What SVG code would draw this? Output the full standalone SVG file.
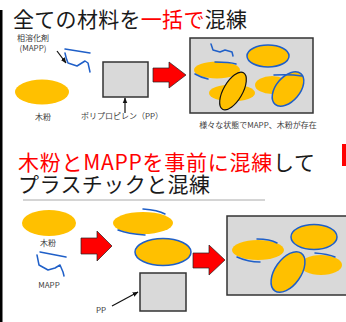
<svg xmlns="http://www.w3.org/2000/svg" width="346" height="322" viewBox="0 0 346 322">
<defs>
<style>
.t{font-family:"Noto Sans CJK JP","Noto Sans",sans-serif;font-size:21px;fill:#1a1a1a}
.r{fill:#ff0000}
.s{font-family:"Noto Sans CJK JP","Noto Sans",sans-serif;font-size:8px;fill:#404040}
.wood{fill:#ffc000}
.wb{fill:#ffc000;stroke:#1f5fc8;stroke-width:1.5}
.wk{fill:#ffc000;stroke:#111;stroke-width:1.2}
.mapp{fill:none;stroke:#1f5fc8;stroke-width:1.5;stroke-linecap:round;stroke-linejoin:round}
.box{fill:#d9d9d9;stroke:#333;stroke-width:1.5}
.ra{fill:#ff0000;stroke:#222;stroke-width:0.7}
.ln{stroke:#111;stroke-width:1.2;fill:none}
</style>
<marker id="ah" viewBox="0 0 10 10" refX="9" refY="5" markerWidth="5" markerHeight="5" orient="auto"><path d="M0,1 L10,5 L0,9 z" fill="#111"/></marker>
</defs>
<rect width="346" height="322" fill="#fff"/>
<rect x="0" y="10" width="2.5" height="312" fill="#000"/>
<rect x="342" y="144" width="4" height="22" fill="#ff0000"/>

<g id="title1"><text class="t" x="13" y="27" textLength="234">全ての材料を<tspan class="r">一括で</tspan>混練</text></g>

<g id="mapp1">
<text class="s" x="33" y="41" text-anchor="middle">相溶化剤</text>
<text class="s" x="33" y="51" text-anchor="middle">(MAPP)</text>
<path class="mapp" d="M65,49 L90,53 M65,53 C66,58 67,61 68,63 L77,66 L85,61 L88,63 L90,72"/>
</g>
<g id="wood1"><ellipse class="wood" cx="42" cy="92" rx="27" ry="12.5"/><text class="s" x="43" y="120" text-anchor="middle">木粉</text></g>
<g id="pp1"><rect class="box" x="103" y="62" width="45" height="35"/><text class="s" x="122" y="119" text-anchor="middle">ポリプロピレン（PP）</text></g>

<g id="mix1">
<rect class="box" x="190" y="38" width="123" height="75"/>
<path class="mapp" d="M211,44 L213,50 L220,52 L225,50 L232,52 L233,56"/>
<ellipse class="wb" cx="268" cy="56" rx="21" ry="11"/>
<ellipse class="wood" cx="217" cy="70" rx="23" ry="8.5"/>
<path class="mapp" d="M215,62 Q230,62 236,64 M195,74 Q200,77 208,79"/>
<ellipse class="wood" cx="232" cy="93" rx="23" ry="8.5"/>
<ellipse class="wk" cx="233" cy="91" rx="21" ry="9.5" transform="rotate(-60 233 91)"/>
<ellipse class="wood" cx="272" cy="85" rx="17" ry="9"/>
<ellipse class="wb" cx="288" cy="89" rx="20" ry="12" transform="rotate(-50 288 89)"/>
<path class="mapp" d="M274,75 Q290,74 302,76"/>
<text class="s" x="258" y="128" text-anchor="middle">様々な状態でMAPP、木粉が存在</text>
</g>

<g id="title2">
<text class="t" x="18" y="170" textLength="297"><tspan class="r">木粉とMAPPを事前に混練</tspan>して</text>
<text class="t" x="18" y="192" textLength="192">プラスチックと混練</text>
<line x1="23" y1="200" x2="265" y2="200" stroke="#aaa" stroke-width="1"/>
</g>

<g id="wood2"><ellipse class="wood" cx="49" cy="223" rx="27" ry="13"/><text class="s" x="48" y="246" text-anchor="middle">木粉</text></g>
<g id="mapp2">
<path class="mapp" d="M40,252 L66,257 M37,255 L39,265 L48,270 L55,268 L60,265 L63,272 L64,276"/>
<text class="s" x="49" y="288" text-anchor="middle">MAPP</text>
</g>
<g id="premix">
<ellipse class="wood" cx="143" cy="223" rx="30" ry="11"/>
<path class="mapp" d="M143,209 Q158,210 165,214 M118,230 Q128,234 145,235"/>
<ellipse class="wb" cx="163" cy="252" rx="28" ry="13.5"/>
</g>
<g id="pp2"><rect class="box" x="140" y="273" width="46" height="38"/><text class="s" x="101" y="313" text-anchor="middle">PP</text></g>

<g id="mix2">
<rect class="box" x="227" y="216" width="120" height="79"/>
<ellipse class="wood" cx="258" cy="250" rx="26" ry="10"/>
<path class="mapp" d="M257,239 Q270,239 277,243 M237,257 Q248,262 260,262"/>
<ellipse class="wb" cx="314" cy="237" rx="23" ry="12.5"/>
<ellipse class="wood" cx="321" cy="265" rx="21" ry="10"/>
<path class="mapp" d="M315,253 Q328,254 335,257"/>
<ellipse class="wb" cx="288" cy="272" rx="23" ry="13" transform="rotate(-55 288 272)"/>
</g>

<g id="connectors">
<line class="ln" x1="57" y1="51" x2="66" y2="63" marker-end="url(#ah)"/>
<line class="ln" x1="125" y1="113" x2="125" y2="98" marker-end="url(#ah)"/>
<line class="ln" x1="112" y1="306" x2="138" y2="292" marker-end="url(#ah)"/>
<path class="ra" d="M153,68 L169,68 L169,62 L186,75 L169,88 L169,82 L153,82 Z"/>
<path class="ra" d="M81,238 L97,238 L97,231 L112,246 L97,261 L97,254 L81,254 Z"/>
<path class="ra" d="M193,253 L209,253 L209,245 L225,260 L209,275 L209,268 L193,268 Z"/>
</g>
</svg>
